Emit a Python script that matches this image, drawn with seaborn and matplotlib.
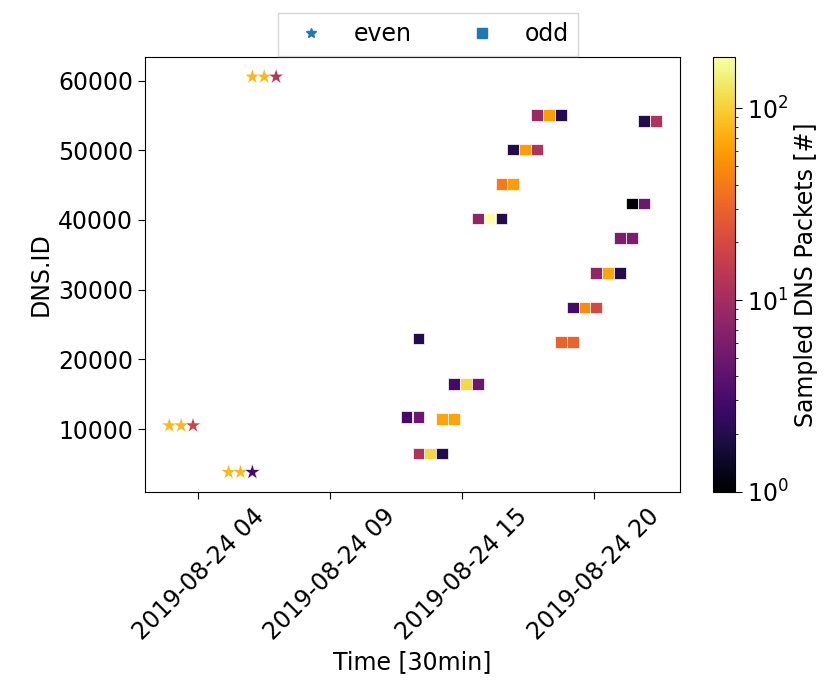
import numpy as np
import pandas as pd
import matplotlib
matplotlib.use("Agg")
import matplotlib.pyplot as plt
import seaborn as sns
from matplotlib.colors import LogNorm
from matplotlib.lines import Line2D
from matplotlib.ticker import MultipleLocator, FuncFormatter

# ---- data ----
even_times = ["2019-08-24 03:00", "2019-08-24 03:30", "2019-08-24 04:00",
              "2019-08-24 05:30", "2019-08-24 06:00", "2019-08-24 06:30",
              "2019-08-24 06:30", "2019-08-24 07:00", "2019-08-24 07:30"]
even_ids = [10500, 10500, 10500, 3800, 3800, 3800, 60550, 60550, 60550]
even_counts = [80, 80, 18, 80, 80, 3, 80, 80, 13]

odd_times = ["2019-08-24 13:30",
             "2019-08-24 15:00", "2019-08-24 15:30", "2019-08-24 16:00",
             "2019-08-24 13:00", "2019-08-24 13:30",
             "2019-08-24 14:30", "2019-08-24 15:00",
             "2019-08-24 13:30", "2019-08-24 14:00", "2019-08-24 14:30",
             "2019-08-24 18:30", "2019-08-24 19:00", "2019-08-24 19:30",
             "2019-08-24 23:00", "2019-08-24 23:30",
             "2019-08-24 17:30", "2019-08-24 18:00", "2019-08-24 18:30",
             "2019-08-24 17:00", "2019-08-24 17:30",
             "2019-08-24 22:30", "2019-08-24 23:00",
             "2019-08-24 16:00", "2019-08-24 16:30", "2019-08-24 17:00",
             "2019-08-24 22:00", "2019-08-24 22:30",
             "2019-08-24 21:00", "2019-08-24 21:30", "2019-08-24 22:00",
             "2019-08-24 20:00", "2019-08-24 20:30", "2019-08-24 21:00",
             "2019-08-24 19:30", "2019-08-24 20:00"]
odd_ids = [23000,
           16450, 16450, 16450,
           11700, 11700,
           11450, 11450,
           6500, 6500, 6500,
           55100, 55100, 55100,
           54250, 54250,
           50100, 50100, 50100,
           45150, 45150,
           42350, 42350,
           40200, 40200, 40200,
           37400, 37400,
           32400, 32400, 32400,
           27450, 27450, 27450,
           22500, 22500]
odd_counts = [2,
              3, 110, 5,
              3, 5,
              65, 65,
              12, 110, 2,
              9, 60, 2,
              2, 12,
              2, 60, 12,
              40, 60,
              1, 5,
              8, 185, 2,
              6, 6,
              8, 65, 2,
              3, 50, 20,
              30, 30]

cbar_min, cbar_max = 1, 185


def to_epoch(ts):
    return (pd.to_datetime(ts) - pd.Timestamp("1970-01-01")) // pd.Timedelta(seconds=1)


even_df = pd.DataFrame({"t": to_epoch(even_times), "id": even_ids, "n": even_counts})
odd_df = pd.DataFrame({"t": to_epoch(odd_times), "id": odd_ids, "n": odd_counts})

# ---- plot ----
sns.set_style("ticks")
plt.rcParams["font.family"] = ["DejaVu Sans"]
plt.rcParams["font.size"] = 17
for k in ["text.color", "axes.labelcolor", "xtick.color", "ytick.color", "axes.edgecolor"]:
    plt.rcParams[k] = "black"
plt.rcParams["xtick.major.size"] = 5
plt.rcParams["ytick.major.size"] = 5

fig = plt.figure(figsize=(8.3, 6.81), dpi=100)
ax = fig.add_axes([145 / 830, 1 - 492 / 681, (680 - 145) / 830, (492 - 57) / 681])
cax = fig.add_axes([713 / 830, 1 - 492 / 681, (735 - 713) / 830, (492 - 57) / 681])

norm = LogNorm(vmin=cbar_min, vmax=cbar_max)
sns.scatterplot(data=even_df, x="t", y="id", hue="n", hue_norm=norm, palette="inferno",
                marker="*", s=135, legend=False, ax=ax, linewidth=0.3)
sns.scatterplot(data=odd_df, x="t", y="id", hue="n", hue_norm=norm, palette="inferno",
                marker="s", s=72, legend=False, ax=ax, linewidth=0.5)

ax.xaxis.set_major_locator(MultipleLocator(20000))
ax.xaxis.set_major_formatter(FuncFormatter(
    lambda v, p: pd.Timestamp(v, unit="s").strftime("%Y-%m-%d %H")))
ax.tick_params(axis="x", labelrotation=45, labelsize=17)
ax.tick_params(axis="y", labelsize=17)
ax.set_xlabel("Time [30min]", fontsize=17)
ax.set_ylabel("DNS.ID", fontsize=17)
for sp in ax.spines.values():
    sp.set_visible(True)
    sp.set_color("black")

sm = matplotlib.cm.ScalarMappable(norm=norm, cmap="inferno")
cb = fig.colorbar(sm, cax=cax)
cb.set_label("Sampled DNS Packets [#]", fontsize=17)
cb.ax.tick_params(labelsize=17)

handles = [Line2D([], [], marker="*", color="#1f77b4", linestyle="None", markersize=7),
           Line2D([], [], marker="s", color="#1f77b4", linestyle="None", markersize=7)]
fig.legend(handles, ["even", "odd"], ncol=2, loc="upper center",
           bbox_to_anchor=(428 / 830, 1 - 1 / 681), fontsize=17, frameon=True,
           fancybox=False, edgecolor="#cccccc")

fig.savefig("out.png", dpi=100)
